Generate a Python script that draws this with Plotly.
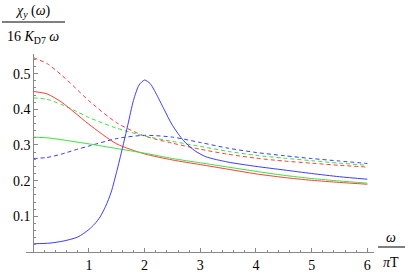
import plotly.graph_objects as go

# ---- data ----
x_common = [0, 0.25, 0.5, 0.75, 1, 1.5, 2, 2.5, 3, 3.5, 4, 4.5, 5, 5.5, 6]

red_dashed   = [0.545, 0.528, 0.497, 0.461, 0.424, 0.362, 0.325, 0.305, 0.288, 0.274, 0.263, 0.255, 0.249, 0.243, 0.238]
green_dashed = [0.432, 0.428, 0.414, 0.396, 0.377, 0.347, 0.325, 0.310, 0.296, 0.282, 0.271, 0.263, 0.256, 0.249, 0.243]
red_solid    = [0.450, 0.443, 0.421, 0.390, 0.358, 0.303, 0.275, 0.258, 0.245, 0.232, 0.219, 0.209, 0.201, 0.195, 0.190]
green_solid  = [0.322, 0.320, 0.315, 0.309, 0.303, 0.290, 0.277, 0.262, 0.250, 0.238, 0.226, 0.215, 0.206, 0.199, 0.193]
blue_dashed  = [0.262, 0.265, 0.274, 0.286, 0.297, 0.318, 0.327, 0.322, 0.307, 0.291, 0.279, 0.270, 0.262, 0.255, 0.248]

x_blue_solid = [0, 0.3, 0.55, 0.8, 1.0, 1.1, 1.2, 1.3, 1.4, 1.5, 1.6, 1.7, 1.8, 1.9, 2.0, 2.1, 2.2, 2.35,
                2.5, 2.7, 2.9, 3.1, 3.5, 4, 4.5, 5, 5.5, 6]
blue_solid   = [0.023, 0.025, 0.031, 0.042, 0.063, 0.078, 0.098, 0.128, 0.168, 0.226, 0.290, 0.357, 0.425, 0.468,
                0.482, 0.472, 0.446, 0.400, 0.355, 0.312, 0.284, 0.267, 0.252, 0.240, 0.230, 0.220,
                0.211, 0.204]

x_ticks = [1, 2, 3, 4, 5, 6]
y_ticks = [0.1, 0.2, 0.3, 0.4, 0.5]

RED = "rgb(255,60,60)"
GREEN = "rgb(60,225,60)"
BLUE = "rgb(60,60,255)"
DASH = "4px,3px"
FONT = "Liberation Serif"

fig = go.Figure()

def add(x, y, color, dash=None):
    fig.add_trace(go.Scatter(
        x=x, y=y, mode="lines",
        line=dict(color=color, width=1, dash=dash or "solid", shape="spline", smoothing=0.7),
        showlegend=False, hoverinfo="skip"))

add(x_common, red_dashed, RED, DASH)
add(x_common, green_dashed, GREEN, DASH)
add(x_common, blue_dashed, BLUE, DASH)
add(x_common, red_solid, RED)
add(x_common, green_solid, GREEN)
add(x_blue_solid, blue_solid, BLUE)

W, H = 409, 273
ml, mr, mt, mb = 26, 35, 54, 21
xr = [-0.13, 6.12]
yr = [0, 0.555]
ypos = (0 - xr[0]) / (xr[1] - xr[0])

axcol = "#888888"
fig.update_layout(
    width=W, height=H,
    margin=dict(l=ml, r=mr, t=mt, b=mb, autoexpand=False),
    paper_bgcolor="white", plot_bgcolor="white",
    font=dict(family=FONT, size=14, color="black"),
    xaxis=dict(
        range=xr, showgrid=False, zeroline=False, automargin=False,
        showline=True, linecolor=axcol, linewidth=1,
        tickmode="array", tickvals=x_ticks, ticktext=[str(v) for v in x_ticks],
        ticks="inside", ticklen=4, tickcolor=axcol, tickwidth=1,
        minor=dict(ticks="inside", dtick=0.2, tick0=0, ticklen=2, tickcolor=axcol, showgrid=False),
        tickfont=dict(family=FONT, size=14, color="black"),
    ),
    yaxis=dict(
        range=yr, showgrid=False, zeroline=False, automargin=False,
        anchor="free", position=ypos,
        showline=True, linecolor=axcol, linewidth=1,
        tickmode="array", tickvals=y_ticks, ticktext=[f"{v:.1f}" for v in y_ticks],
        ticks="inside", ticklen=4, tickcolor=axcol, tickwidth=1,
        minor=dict(ticks="inside", dtick=0.02, tick0=0, ticklen=2, tickcolor=axcol, showgrid=False),
        tickfont=dict(family=FONT, size=14, color="black"),
    ),
)

pw = W - ml - mr
ph = H - mt - mb
def px(p):
    return (p - ml) / pw
def py(p):
    return (H - mb - p) / ph

# top-left fraction label
fig.add_annotation(x=px(33), y=py(12), xref="paper", yref="paper", showarrow=False,
                   text="<i>χ</i><sub><i>y</i></sub> (<i>ω</i>)", font=dict(family=FONT, size=14),
                   xanchor="center", yanchor="middle")
fig.add_shape(type="line", xref="paper", yref="paper",
              x0=px(2), x1=px(65), y0=py(22), y1=py(22), line=dict(color="black", width=1))
fig.add_annotation(x=px(33), y=py(37), xref="paper", yref="paper", showarrow=False,
                   text="16 <i>K</i><sub>D7</sub> <i>ω</i>", font=dict(family=FONT, size=14),
                   xanchor="center", yanchor="middle")

# right fraction label
fig.add_annotation(x=px(391), y=py(237), xref="paper", yref="paper", showarrow=False,
                   text="<i>ω</i>", font=dict(family=FONT, size=14),
                   xanchor="center", yanchor="middle")
fig.add_shape(type="line", xref="paper", yref="paper",
              x0=px(378), x1=px(405), y0=py(247), y1=py(247), line=dict(color="black", width=1))
fig.add_annotation(x=px(391), y=py(262), xref="paper", yref="paper", showarrow=False,
                   text="<i>π</i>T", font=dict(family=FONT, size=14),
                   xanchor="center", yanchor="middle")

fig.write_html("out.html",
               config={"displayModeBar": False},
               post_script="document.body.style.margin='0px';document.body.style.padding='0px';")
